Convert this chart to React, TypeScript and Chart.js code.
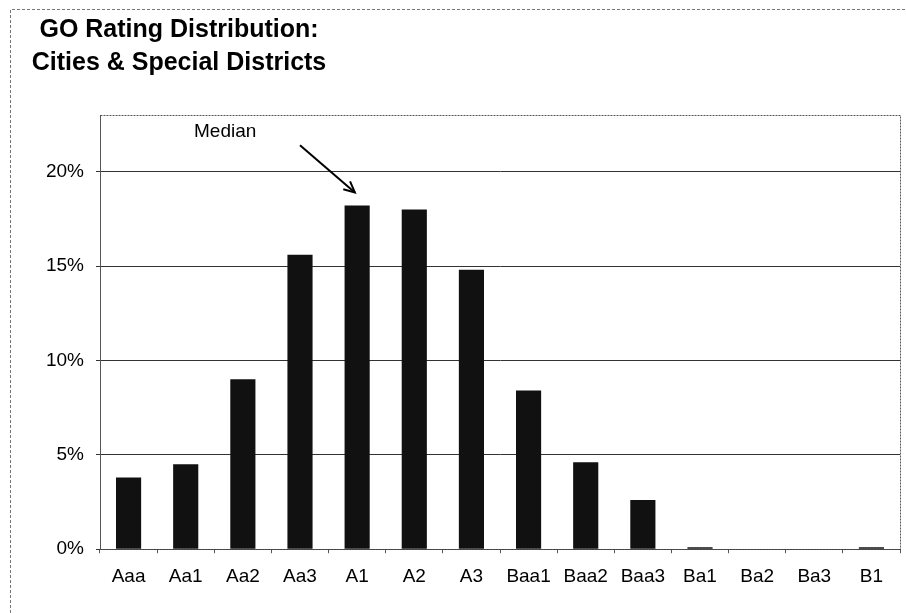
import React, { useEffect, useRef } from 'react';
import { Chart, registerables } from 'chart.js';

Chart.register(...registerables);

// ---- data ----
const categories = ['Aaa', 'Aa1', 'Aa2', 'Aa3', 'A1', 'A2', 'A3', 'Baa1', 'Baa2', 'Baa3', 'Ba1', 'Ba2', 'Ba3', 'B1'];
const shares = [3.8, 4.5, 9.0, 15.6, 18.2, 18.0, 14.8, 8.4, 4.6, 2.6, 0.1, 0, 0, 0.1];
const yTickValues = [0, 5, 10, 15, 20];
const yMax = 23;
const titleLines = ['GO Rating Distribution:', 'Cities & Special Districts'];
const medianLabel = 'Median';
// annotation anchors in data units: [category index, percent]
const medianLabelAt = [1.69, 22.1];
const medianArrowFrom = [3.0, 21.4];
const medianArrowTo = [3.96, 18.9];

const FONT = '"Liberation Sans", Arial, Helvetica, sans-serif';

const framePlugin = {
  id: 'frame',
  beforeDraw(chart: any) {
    const { ctx, width, height } = chart;
    ctx.save();
    ctx.fillStyle = '#ffffff';
    ctx.fillRect(0, 0, width, height);
    ctx.strokeStyle = '#777';
    ctx.lineWidth = 1;
    ctx.setLineDash([3, 2]);
    ctx.beginPath();
    ctx.moveTo(10.5, height);
    ctx.lineTo(10.5, 9.5);
    ctx.lineTo(width, 9.5);
    ctx.stroke();
    ctx.setLineDash([]);
    // title, two centred lines
    ctx.fillStyle = '#000';
    ctx.font = `bold 25px ${FONT}`;
    ctx.textAlign = 'center';
    ctx.textBaseline = 'middle';
    titleLines.forEach((line, i) => {
      ctx.fillText(line, 179, 30 + i * 33);
    });
    ctx.restore();
  },
};

const plotDecor = {
  id: 'plotDecor',
  afterDatasetsDraw(chart: any) {
    const { ctx, chartArea, scales } = chart;
    const x = scales.x;
    const y = scales.y;
    ctx.save();
    // plot-area border
    ctx.strokeStyle = '#555';
    ctx.lineWidth = 1;
    ctx.setLineDash([2, 1]);
    ctx.strokeRect(
      Math.round(chartArea.left) + 0.5,
      Math.round(chartArea.top) + 0.5,
      Math.round(chartArea.right - chartArea.left),
      Math.round(chartArea.bottom - chartArea.top)
    );
    ctx.setLineDash([]);
    // median label
    ctx.fillStyle = '#000';
    ctx.font = `19px ${FONT}`;
    ctx.textAlign = 'center';
    ctx.textBaseline = 'middle';
    ctx.fillText(medianLabel, x.getPixelForValue(medianLabelAt[0]), y.getPixelForValue(medianLabelAt[1]));
    // arrow
    const x0 = x.getPixelForValue(medianArrowFrom[0]);
    const y0 = y.getPixelForValue(medianArrowFrom[1]);
    const x1 = x.getPixelForValue(medianArrowTo[0]);
    const y1 = y.getPixelForValue(medianArrowTo[1]);
    ctx.strokeStyle = '#000';
    ctx.lineWidth = 2;
    ctx.beginPath();
    ctx.moveTo(x0, y0);
    ctx.lineTo(x1, y1);
    ctx.stroke();
    const ang = Math.atan2(y1 - y0, x1 - x0);
    const hl = 12;
    ctx.beginPath();
    ctx.moveTo(x1 - hl * Math.cos(ang - 0.45), y1 - hl * Math.sin(ang - 0.45));
    ctx.lineTo(x1, y1);
    ctx.lineTo(x1 - hl * Math.cos(ang + 0.45), y1 - hl * Math.sin(ang + 0.45));
    ctx.stroke();
    ctx.restore();
  },
};

export default function App() {
  const ref = useRef<HTMLCanvasElement | null>(null);

  useEffect(() => {
    document.body.style.margin = '0';
    const canvas = ref.current;
    if (!canvas) return;
    const chart = new Chart(canvas, {
      type: 'bar',
      data: {
        labels: categories,
        datasets: [
          {
            data: shares,
            backgroundColor: '#111111',
            borderWidth: 0,
            categoryPercentage: 1,
            barPercentage: 0.44,
          },
        ],
      },
      options: {
        responsive: false,
        animation: false,
        layout: { padding: { left: 0, right: 6, top: 115, bottom: 13 } },
        plugins: {
          legend: { display: false },
          tooltip: { enabled: false },
          title: { display: false },
        },
        scales: {
          x: {
            offset: true,
            grid: {
              offset: true,
              drawOnChartArea: false,
              drawTicks: true,
              tickLength: 4,
              color: '#555',
            },
            border: { display: true, color: '#333' },
            ticks: {
              color: '#000',
              padding: 12,
              maxRotation: 0,
              autoSkip: false,
              font: { family: FONT, size: 19 },
            },
          },
          y: {
            min: 0,
            max: yMax,
            afterBuildTicks(scale: any) {
              scale.ticks = yTickValues.map((v) => ({ value: v }));
            },
            afterFit(scale: any) {
              scale.width = 100;
            },
            grid: {
              color: '#333',
              lineWidth: 1,
              drawTicks: true,
              tickLength: 4,
            },
            border: { display: true, color: '#555' },
            ticks: {
              color: '#000',
              padding: 12,
              font: { family: FONT, size: 19 },
              callback: (v: any) => `${v}%`,
            },
          },
        },
      },
      plugins: [framePlugin, plotDecor],
    });
    return () => chart.destroy();
  }, []);

  return (
    <div style={{ width: 906, height: 613 }}>
      <canvas ref={ref} width={906} height={613} style={{ display: 'block', width: 906, height: 613 }} />
    </div>
  );
}
